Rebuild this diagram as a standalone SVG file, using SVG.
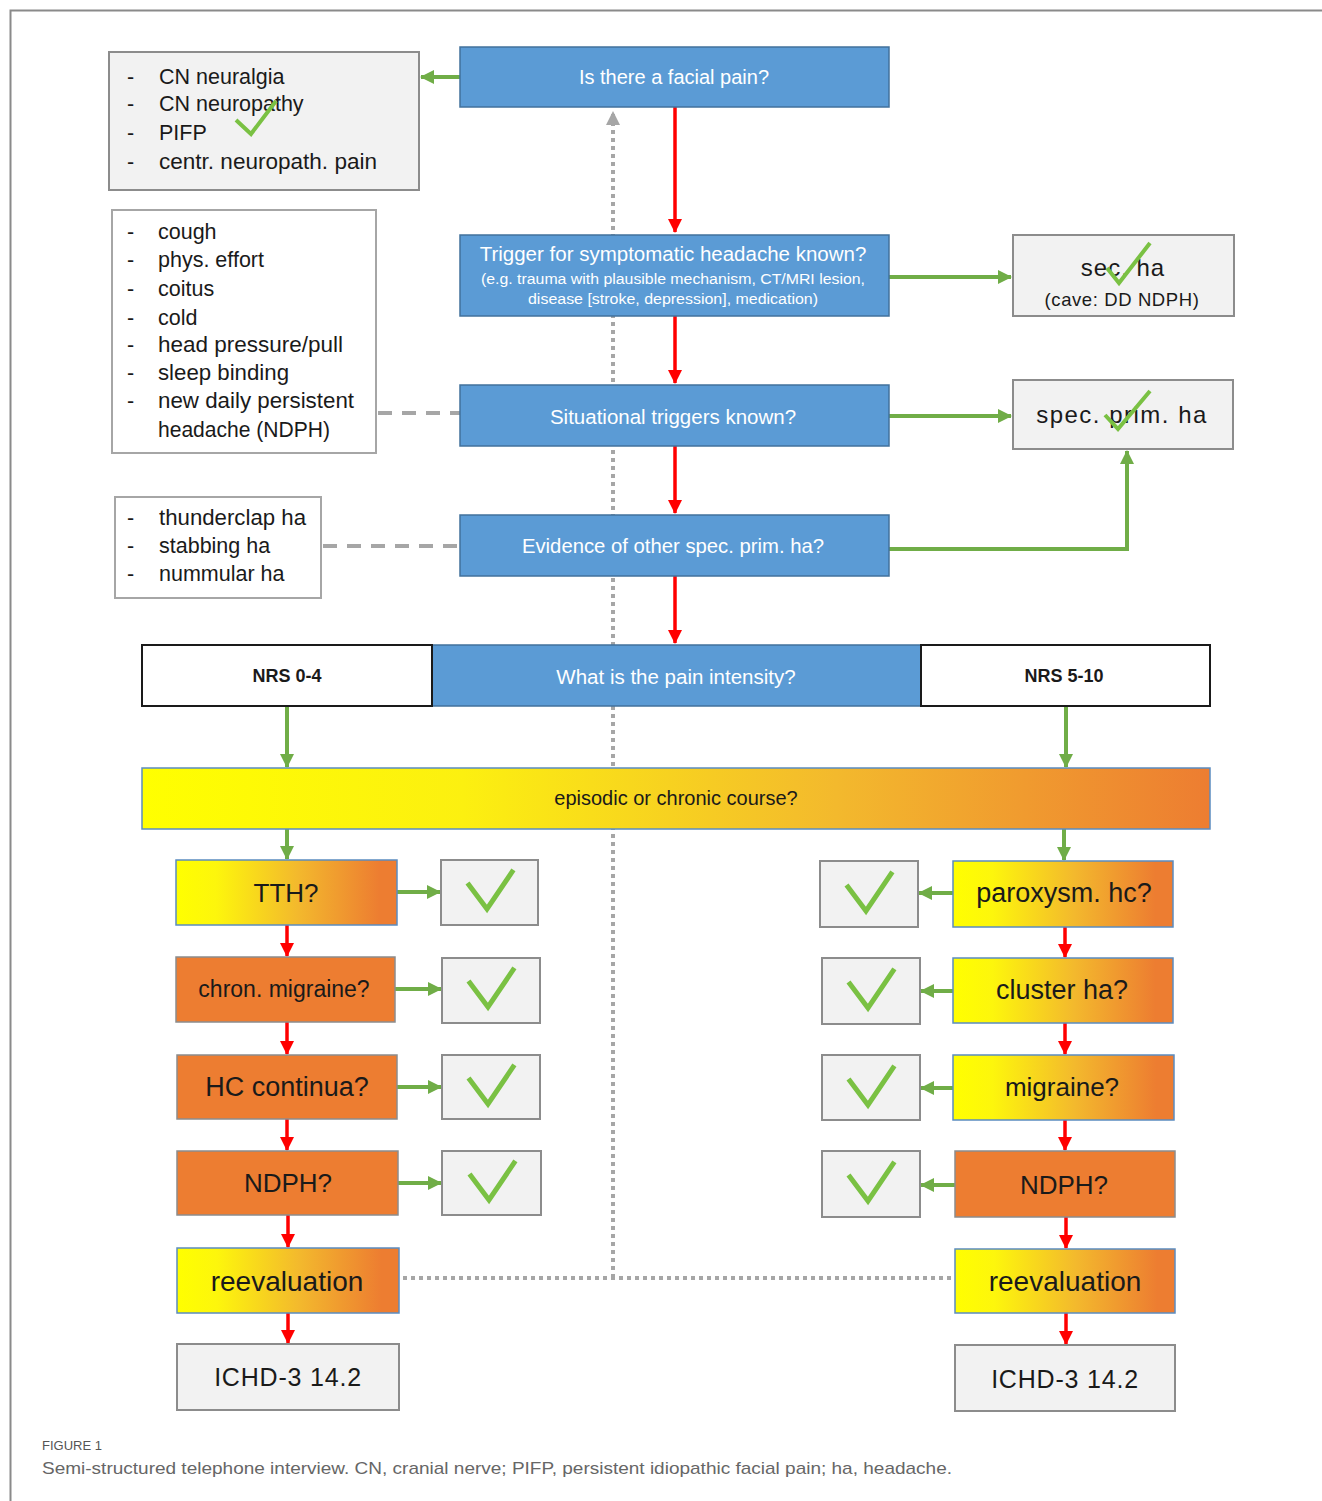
<svg xmlns="http://www.w3.org/2000/svg" width="1322" height="1501" viewBox="0 0 1322 1501">
<defs>
<linearGradient id="gr" x1="0" y1="0" x2="1" y2="0">
<stop offset="0" stop-color="#ffff00"/>
<stop offset="0.18" stop-color="#fdf60c"/>
<stop offset="0.55" stop-color="#f3b92d"/>
<stop offset="0.92" stop-color="#ed7d31"/>
<stop offset="1" stop-color="#ed7d31"/>
</linearGradient>
<linearGradient id="grw" x1="0" y1="0" x2="1" y2="0">
<stop offset="0" stop-color="#ffff00"/>
<stop offset="0.3" stop-color="#fcf010"/>
<stop offset="0.65" stop-color="#f3b92d"/>
<stop offset="1" stop-color="#ed7d31"/>
</linearGradient>
<marker id="ar" markerUnits="userSpaceOnUse" markerWidth="16" markerHeight="16" refX="13" refY="8" orient="auto">
<path d="M0,1 L14,8 L0,15 Z" fill="#ff0000"/>
</marker>
<marker id="ag" markerUnits="userSpaceOnUse" markerWidth="16" markerHeight="16" refX="13" refY="8" orient="auto">
<path d="M0,1 L14,8 L0,15 Z" fill="#70ad47"/>
</marker>
<marker id="agr" markerUnits="userSpaceOnUse" markerWidth="16" markerHeight="16" refX="13" refY="8" orient="auto">
<path d="M0,1 L14,8 L0,15 Z" fill="#a6a6a6"/>
</marker>
</defs>
<style>
text{font-family:"Liberation Sans",Arial,sans-serif}
.blue{fill:#5b9bd5;stroke:#41719c;stroke-width:1.5}
.gray{fill:#f2f2f2;stroke:#8c8c8c;stroke-width:2}
.wht{fill:#ffffff;stroke:#a6a6a6;stroke-width:2}
.nrs{fill:#ffffff;stroke:#1a1a1a;stroke-width:2}
.grad{fill:url(#gr);stroke:#5b8cc0;stroke-width:1.5}
.orng{fill:#ed7d31;stroke:#8c8c8c;stroke-width:1.5}
.bt{fill:#ffffff;text-anchor:middle;dominant-baseline:central}
.lt{fill:#1a1a1a;font-size:21.5px}
.ct{fill:#1a1a1a;text-anchor:middle;dominant-baseline:central}
.red{stroke:#ff0000;stroke-width:3.5;fill:none;marker-end:url(#ar)}
.grn{stroke:#70ad47;stroke-width:4;fill:none;marker-end:url(#ag)}
.dash{stroke:#a6a6a6;stroke-width:4;fill:none;stroke-dasharray:14 10}
.dot{stroke:#a6a6a6;stroke-width:4;fill:none;stroke-dasharray:4 4}
.chk{stroke:#7ac143;stroke-width:5;fill:none;stroke-linecap:square}
.chks{stroke:#7ac143;stroke-width:4;fill:none}
</style>
<rect x="0" y="0" width="1322" height="1501" fill="#ffffff"/>
<path d="M10.5,1501 L10.5,10.5 L1322,10.5" fill="none" stroke="#8a8a8a" stroke-width="2"/>

<g id="connectors">
<path class="dot" d="M613,1278 L613,112" marker-end="url(#agr)"/>
<path class="dot" d="M403,1278 L953,1278"/>
<path class="dash" d="M378,413 L460,413"/>
<path class="dash" d="M323,546 L460,546"/>
<path class="grn" d="M460,77 L421,77"/>
<path class="red" d="M675,107 L675,232"/>
<path class="grn" d="M889,277 L1011,277"/>
<path class="red" d="M675,316 L675,383"/>
<path class="grn" d="M889,416 L1011,416"/>
<path class="red" d="M675,446 L675,513"/>
<path class="grn" d="M889,549 L1127,549 L1127,451"/>
<path class="red" d="M675,576 L675,643"/>
<path class="grn" d="M287,706 L287,767"/>
<path class="grn" d="M1066,706 L1066,767"/>
<path class="grn" d="M287,829 L287,859"/>
<path class="grn" d="M1064,829 L1064,860"/>
<path class="red" d="M287,925 L287,956"/>
<path class="red" d="M287,1022 L287,1054"/>
<path class="red" d="M287,1119 L287,1150"/>
<path class="red" d="M288,1215 L288,1247"/>
<path class="red" d="M288,1313 L288,1343"/>
<path class="red" d="M1065,927 L1065,957"/>
<path class="red" d="M1065,1023 L1065,1054"/>
<path class="red" d="M1065,1120 L1065,1150"/>
<path class="red" d="M1066,1217 L1066,1248"/>
<path class="red" d="M1066,1313 L1066,1344"/>
<path class="grn" d="M397,892 L440,892"/>
<path class="grn" d="M395,989 L441,989"/>
<path class="grn" d="M397,1087 L441,1087"/>
<path class="grn" d="M398,1183 L441,1183"/>
<path class="grn" d="M953,893 L919,893"/>
<path class="grn" d="M953,991 L921,991"/>
<path class="grn" d="M953,1088 L921,1088"/>
<path class="grn" d="M955,1185 L921,1185"/>
</g>

<g id="facial">
<rect class="blue" x="460" y="47" width="429" height="60"/>
<text class="bt" x="674" y="77" font-size="20">Is there a facial pain?</text>
</g>
<g id="facial-list">
<rect class="gray" x="109" y="52" width="310" height="138"/>
<text class="lt" x="127" y="84">-</text><text class="lt" x="159" y="84">CN neuralgia</text>
<text class="lt" x="127" y="111">-</text><text class="lt" x="159" y="111">CN neuropathy</text>
<text class="lt" x="127" y="140">-</text><text class="lt" x="159" y="140">PIFP</text>
<text class="lt" x="127" y="169">-</text><text class="lt" x="159" y="169" textLength="218" lengthAdjust="spacingAndGlyphs">centr. neuropath. pain</text>
<path class="chks" d="M236,120 L251,134 L276,101"/>
</g>
<g id="trigger">
<rect class="blue" x="460" y="235" width="429" height="81"/>
<text class="bt" x="673" y="253" font-size="20.5">Trigger for symptomatic headache known?</text>
<text class="bt" x="673" y="278" font-size="15.5" textLength="384" lengthAdjust="spacingAndGlyphs">(e.g. trauma with plausible mechanism, CT/MRI lesion,</text>
<text class="bt" x="673" y="298" font-size="15.5" textLength="290" lengthAdjust="spacingAndGlyphs">disease [stroke, depression], medication)</text>
</g>
<g id="secha">
<rect class="gray" x="1013" y="235" width="221" height="81"/>
<text class="ct" x="1123" y="267" font-size="24" letter-spacing="1">sec. ha</text>
<text class="ct" x="1122" y="299" font-size="18.5" letter-spacing="0.6" fill="#333">(cave: DD NDPH)</text>
<path class="chks" d="M1107,268 L1119,283 L1150,243"/>
</g>
<g id="situational">
<rect class="blue" x="460" y="385" width="429" height="61"/>
<text class="bt" x="673" y="416" font-size="20.5">Situational triggers known?</text>
</g>
<g id="situational-list">
<rect class="wht" x="112" y="210" width="264" height="243"/>
<text class="lt" x="127" y="239">-</text><text class="lt" x="158" y="239">cough</text>
<text class="lt" x="127" y="267">-</text><text class="lt" x="158" y="267">phys. effort</text>
<text class="lt" x="127" y="296">-</text><text class="lt" x="158" y="296">coitus</text>
<text class="lt" x="127" y="325">-</text><text class="lt" x="158" y="325">cold</text>
<text class="lt" x="127" y="352">-</text><text class="lt" x="158" y="352" textLength="185" lengthAdjust="spacingAndGlyphs">head pressure/pull</text>
<text class="lt" x="127" y="380">-</text><text class="lt" x="158" y="380" textLength="131" lengthAdjust="spacingAndGlyphs">sleep binding</text>
<text class="lt" x="127" y="408">-</text><text class="lt" x="158" y="408" textLength="196" lengthAdjust="spacingAndGlyphs">new daily persistent</text>
<text class="lt" x="158" y="437" textLength="172" lengthAdjust="spacingAndGlyphs">headache (NDPH)</text>
</g>
<g id="specprim">
<rect class="gray" x="1013" y="380" width="220" height="69"/>
<text class="ct" x="1122" y="414" font-size="24" letter-spacing="1.5">spec. prim. ha</text>
<path class="chks" d="M1105,415 L1118,429 L1150,391"/>
</g>
<g id="evidence">
<rect class="blue" x="460" y="515" width="429" height="61"/>
<text class="bt" x="673" y="546" font-size="20.3">Evidence of other spec. prim. ha?</text>
</g>
<g id="evidence-list">
<rect class="wht" x="115" y="497" width="206" height="101"/>
<text class="lt" x="127" y="525">-</text><text class="lt" x="159" y="525" textLength="147" lengthAdjust="spacingAndGlyphs">thunderclap ha</text>
<text class="lt" x="127" y="553">-</text><text class="lt" x="159" y="553">stabbing ha</text>
<text class="lt" x="127" y="581">-</text><text class="lt" x="159" y="581">nummular ha</text>
</g>
<g id="intensity">
<rect class="blue" x="432" y="645" width="489" height="61"/>
<text class="bt" x="676" y="676" font-size="20.5">What is the pain intensity?</text>
</g>
<g id="nrs04">
<rect class="nrs" x="142" y="645" width="290" height="61"/>
<text class="ct" x="287" y="676" font-size="18" font-weight="bold">NRS 0-4</text>
</g>
<g id="nrs510">
<rect class="nrs" x="921" y="645" width="289" height="61"/>
<text class="ct" x="1064" y="676" font-size="18" font-weight="bold">NRS 5-10</text>
</g>
<g id="course">
<rect x="142" y="768" width="1068" height="61" fill="url(#grw)" stroke="#5b8cc0" stroke-width="1.5"/>
<text class="ct" x="676" y="798" font-size="20">episodic or chronic course?</text>
</g>

<g id="tth"><rect class="grad" x="176" y="860" width="221" height="65"/><text class="ct" x="286" y="893" font-size="26">TTH?</text></g>
<g id="tth-ok"><rect class="gray" x="441" y="860" width="97" height="65"/><path class="chk" d="M469,885 L487,909 L512,872"/></g>
<g id="chronmig"><rect class="orng" x="176" y="957" width="219" height="65"/><text class="ct" x="284" y="989" font-size="23">chron. migraine?</text></g>
<g id="chronmig-ok"><rect class="gray" x="442" y="958" width="98" height="65"/><path class="chk" d="M470,983 L488,1007 L513,970"/></g>
<g id="hc"><rect class="orng" x="177" y="1055" width="220" height="64"/><text class="ct" x="287" y="1087" font-size="27">HC continua?</text></g>
<g id="hc-ok"><rect class="gray" x="442" y="1055" width="98" height="64"/><path class="chk" d="M470,1080 L488,1104 L513,1067"/></g>
<g id="ndph-l"><rect class="orng" x="177" y="1151" width="221" height="64"/><text class="ct" x="288" y="1183" font-size="26">NDPH?</text></g>
<g id="ndph-l-ok"><rect class="gray" x="442" y="1151" width="99" height="64"/><path class="chk" d="M471,1176 L489,1200 L514,1163"/></g>
<g id="reeval-l"><rect class="grad" x="177" y="1248" width="222" height="65"/><text class="ct" x="287" y="1281" font-size="28">reevaluation</text></g>
<g id="ichd-l"><rect class="gray" x="177" y="1344" width="222" height="66"/><text class="ct" x="288" y="1377" font-size="25" letter-spacing="0.8">ICHD-3 14.2</text></g>

<g id="paroxysm"><rect class="grad" x="953" y="861" width="220" height="66"/><text class="ct" x="1064" y="893" font-size="27">paroxysm. hc?</text></g>
<g id="paroxysm-ok"><rect class="gray" x="820" y="861" width="98" height="66"/><path class="chk" d="M848,887 L866,911 L891,874"/></g>
<g id="cluster"><rect class="grad" x="953" y="958" width="220" height="65"/><text class="ct" x="1062" y="990" font-size="27">cluster ha?</text></g>
<g id="cluster-ok"><rect class="gray" x="822" y="958" width="98" height="66"/><path class="chk" d="M850,984 L868,1008 L893,971"/></g>
<g id="migraine"><rect class="grad" x="953" y="1055" width="221" height="65"/><text class="ct" x="1062" y="1087" font-size="26">migraine?</text></g>
<g id="migraine-ok"><rect class="gray" x="822" y="1055" width="98" height="65"/><path class="chk" d="M850,1081 L868,1105 L893,1068"/></g>
<g id="ndph-r"><rect class="orng" x="955" y="1151" width="220" height="66"/><text class="ct" x="1064" y="1185" font-size="26">NDPH?</text></g>
<g id="ndph-r-ok"><rect class="gray" x="822" y="1151" width="98" height="66"/><path class="chk" d="M850,1177 L868,1201 L893,1164"/></g>
<g id="reeval-r"><rect class="grad" x="955" y="1249" width="220" height="64"/><text class="ct" x="1065" y="1281" font-size="28">reevaluation</text></g>
<g id="ichd-r"><rect class="gray" x="955" y="1345" width="220" height="66"/><text class="ct" x="1065" y="1379" font-size="25" letter-spacing="0.8">ICHD-3 14.2</text></g>

<g id="caption">
<text x="42" y="1450" font-size="13" fill="#555555">FIGURE 1</text>
<text x="42" y="1474" font-size="17" fill="#666666" textLength="910" lengthAdjust="spacingAndGlyphs">Semi-structured telephone interview. CN, cranial nerve; PIFP, persistent idiopathic facial pain; ha, headache.</text>
</g>
</svg>
